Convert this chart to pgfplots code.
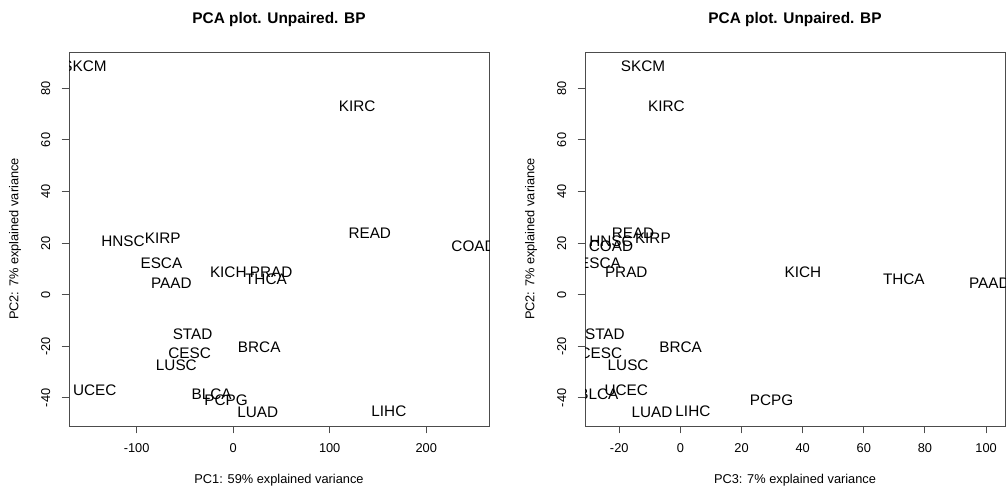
\documentclass[border=0pt]{standalone}
\usepackage{fontspec}
\setmainfont{Liberation Sans}
\usepackage{pgfplots}
\usepackage{pgfplotstable}
\pgfplotsset{compat=1.18}

\pgfplotstableread{
name x1 y x3
SKCM -154 88.7 -12.2
KIRC 128.5 73.1 -4.6
HNSC -114 20.8 -22.7
KIRP -73 21.9 -9
ESCA -74.3 12.2 -26.3
PAAD -64 4.4 101.1
KICH -5 8.8 40.1
PRAD 39.4 8.6 -17.7
THCA 34 6.0 73.1
READ 141.5 23.8 -15.5
COAD 249 18.6 -22.7
STAD -42 -15.2 -24.7
CESC -45 -22.5 -26
LUSC -58.8 -27.2 -17.1
BRCA 27 -20.4 0.1
UCEC -143.3 -37.2 -17.7
BLCA -22.3 -38.5 -26.8
PCPG -7.3 -40.8 29.8
LUAD 25.4 -45.7 -9.3
LIHC 161.3 -45.3 4.1
}\pcadata

\pgfplotsset{
  rstyle/.style={
    scale only axis,
    width=420bp, height=374bp,
    anchor=south west,
    axis line style={draw=black!70, line width=0.9bp},
    every tick/.style={draw=black!70, line width=0.9bp},
    tick align=outside,
    major tick length=7.5bp,
    xtick pos=bottom, ytick pos=left,
    /pgf/number format/assume math mode=true,
    tick label style={font=\fontsize{12.8bp}{14bp}\selectfont, inner sep=0pt},
    xticklabel style={anchor=north},
    yticklabel style={rotate=90, anchor=south},
    xticklabel shift=10bp,
    yticklabel shift=11bp,
    ymin=-50.9, ymax=94.1,
    ytick={-40,-20,0,20,40,60,80},
    every axis title shift=0pt,
    title style={at={(axis description cs:0.5,1.0856)}, anchor=center, font=\bfseries\fontsize{15.4bp}{17bp}\selectfont},
    xlabel style={at={(axis description cs:0.5,-0.144)}, anchor=center, font=\fontsize{12.8bp}{14bp}\selectfont},
    ylabel style={at={(axis description cs:-0.1286,0.5)}, anchor=center, rotate=0, font=\fontsize{12.8bp}{14bp}\selectfont},
    title={PCA plot. Unpaired. BP},
    ylabel={PC2: 7\% explained variance},
    clip=true,
    clip marker paths=true,
  },
  lab/.style={
    only marks, mark=none,
    nodes near coords,
    point meta=explicit symbolic,
    every node near coord/.append style={anchor=center, inner sep=0pt, text=black, font=\fontsize{15.3bp}{17bp}\selectfont},
  },
}

\begin{document}
\begin{tikzpicture}[x=1bp,y=1bp]
\useasboundingbox (0,0) rectangle (1006,488);
\begin{axis}[rstyle, at={(69bp,62bp)},
  xmin=-170, xmax=265,
  xtick={-100,0,100,200},
  xlabel={PC1: 59\% explained variance}]
\addplot[lab] table[x=x1, y=y, meta=name] {\pcadata};
\end{axis}
\begin{axis}[rstyle, at={(585bp,62bp)},
  xmin=-31.2, xmax=106.2,
  xtick={-20,0,20,40,60,80,100},
  xlabel={PC3: 7\% explained variance}]
\addplot[lab] table[x=x3, y=y, meta=name] {\pcadata};
\end{axis}
\end{tikzpicture}
\end{document}
